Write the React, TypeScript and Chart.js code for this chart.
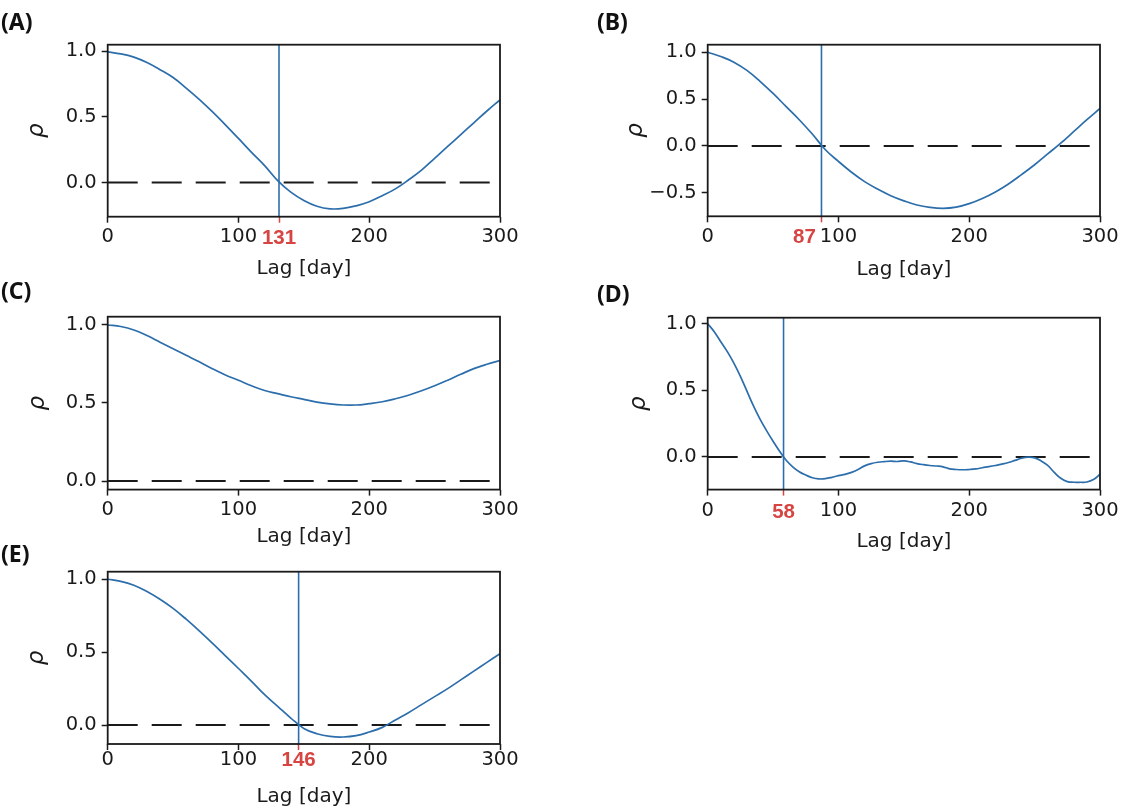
import React, { useEffect, useRef } from "react";
import { Chart, registerables } from "chart.js";

Chart.register(...registerables);

// ---------------- data ----------------
const lagsCoarse = [0, 10, 20, 30, 40, 50, 60, 70, 80, 90, 100, 110, 120, 130, 140, 150, 160, 170, 180, 190, 200, 210, 220, 230, 240, 250, 260, 270, 280, 290, 300];
const lagsFine = [0, 5, 10, 15, 20, 25, 30, 35, 40, 45, 50, 55, 60, 65, 70, 75, 80, 85, 90, 95, 100, 105, 110, 115, 120, 125, 130, 135, 140, 145, 150, 155, 160, 165, 170, 175, 180, 185, 190, 195, 200, 205, 210, 215, 220, 225, 230, 235, 240, 245, 250, 255, 260, 265, 270, 275, 280, 285, 290, 295, 300];

const rhoA = [0.995, 0.98, 0.955, 0.914, 0.86, 0.8, 0.72, 0.634, 0.54, 0.44, 0.336, 0.23, 0.129, 0.015, -0.073, -0.136, -0.18, -0.2, -0.197, -0.177, -0.146, -0.1, -0.048, 0.02, 0.095, 0.185, 0.275, 0.365, 0.455, 0.545, 0.63];
const rhoB = [1.0, 0.954, 0.894, 0.806, 0.69, 0.56, 0.42, 0.28, 0.127, -0.04, -0.165, -0.28, -0.38, -0.46, -0.53, -0.585, -0.63, -0.655, -0.665, -0.652, -0.615, -0.56, -0.49, -0.405, -0.305, -0.2, -0.085, 0.03, 0.155, 0.28, 0.4];
const rhoC = [1.0, 0.99, 0.968, 0.932, 0.89, 0.848, 0.806, 0.764, 0.72, 0.68, 0.646, 0.61, 0.58, 0.56, 0.54, 0.523, 0.506, 0.494, 0.487, 0.487, 0.496, 0.508, 0.527, 0.55, 0.578, 0.61, 0.646, 0.684, 0.72, 0.748, 0.772];
const rhoD = [1.0, 0.94, 0.864, 0.79, 0.704, 0.605, 0.494, 0.383, 0.284, 0.198, 0.118, 0.042, -0.025, -0.074, -0.111, -0.136, -0.156, -0.165, -0.163, -0.153, -0.14, -0.131, -0.116, -0.094, -0.067, -0.05, -0.04, -0.035, -0.032, -0.034, -0.03, -0.037, -0.05, -0.058, -0.064, -0.068, -0.074, -0.089, -0.094, -0.096, -0.094, -0.09, -0.081, -0.073, -0.064, -0.054, -0.042, -0.026, -0.01, -0.002, -0.007, -0.03, -0.064, -0.116, -0.16, -0.185, -0.19, -0.19, -0.188, -0.17, -0.13];
const rhoE = [1.0, 0.986, 0.959, 0.916, 0.863, 0.8, 0.726, 0.646, 0.562, 0.475, 0.388, 0.3, 0.208, 0.128, 0.048, -0.023, -0.06, -0.078, -0.082, -0.073, -0.048, -0.016, 0.035, 0.085, 0.14, 0.195, 0.25, 0.31, 0.37, 0.43, 0.49];

const crossA = 131;
const crossB = 87;
const crossD = 58;
const crossE = 146;

const xTicksA = [0, 100, 131, 200, 300];
const xTicksB = [0, 87, 100, 200, 300];
const xTicksC = [0, 100, 200, 300];
const xTicksD = [0, 58, 100, 200, 300];
const xTicksE = [0, 100, 146, 200, 300];

const yTicksA = [0, 0.5, 1.0];
const yTicksB = [-0.5, 0, 0.5, 1.0];
const yTicksC = [0, 0.5, 1.0];
const yTicksD = [0, 0.5, 1.0];
const yTicksE = [0, 0.5, 1.0];

const xTitle = "Lag [day]";
const yTitle = "ρ";

// ---------------- style ----------------
const BLUE = "#2c6eab";
const RED = "#d64541";
const INK = "#1a1a1a";

type PanelCfg = {
  label: string;
  lags: number[];
  rho: number[];
  cross: number | null;
  crossLabel: string;
  xTicks: number[];
  yTicks: number[];
  yMin: number;
  yMax: number;
  plotL: number;
  plotR: number;
  plotT: number;
  plotB: number;
  titleCY: number;
  rhoCX: number;
  xTickPad: number;
  labelX: number;
  labelY: number;
};

const panels: PanelCfg[] = [
  { label: "(A)", lags: lagsCoarse, rho: rhoA, cross: crossA, crossLabel: "131", xTicks: xTicksA, yTicks: yTicksA, yMin: -0.26, yMax: 1.05,
    plotL: 107.7, plotR: 500, plotT: 43.3, plotB: 216.7, titleCY: 269, rhoCX: 37.5, xTickPad: 3, labelX: 1, labelY: 10 },
  { label: "(B)", lags: lagsCoarse, rho: rhoB, cross: crossB, crossLabel: "87      ", xTicks: xTicksB, yTicks: yTicksB, yMin: -0.75, yMax: 1.08,
    plotL: 707.7, plotR: 1100, plotT: 43.3, plotB: 216.3, titleCY: 270, rhoCX: 635.7, xTickPad: 3, labelX: 597, labelY: 10 },
  { label: "(C)", lags: lagsCoarse, rho: rhoC, cross: null, crossLabel: "", xTicks: xTicksC, yTicks: yTicksC, yMin: -0.055, yMax: 1.053,
    plotL: 107.7, plotR: 500, plotT: 315, plotB: 489.6, titleCY: 537.3, rhoCX: 38.5, xTickPad: 2.5, labelX: 1, labelY: 278.5 },
  { label: "(D)", lags: lagsFine, rho: rhoD, cross: crossD, crossLabel: "58", xTicks: xTicksD, yTicks: yTicksD, yMin: -0.245, yMax: 1.045,
    plotL: 707.7, plotR: 1100, plotT: 316, plotB: 489.6, titleCY: 542, rhoCX: 639, xTickPad: 4, labelX: 597, labelY: 282 },
  { label: "(E)", lags: lagsCoarse, rho: rhoE, cross: crossE, crossLabel: "146", xTicks: xTicksE, yTicks: yTicksE, yMin: -0.13, yMax: 1.052,
    plotL: 107.7, plotR: 500, plotT: 570.7, plotB: 744, titleCY: 797.3, rhoCX: 37.5, xTickPad: -1.5, labelX: 1, labelY: 542 },
];

const framePlugin = {
  id: "frame",
  afterDraw(chart: any) {
    const { ctx, chartArea: a } = chart;
    ctx.save();
    ctx.strokeStyle = INK;
    ctx.lineWidth = 1.8;
    ctx.strokeRect(a.left, a.top, a.right - a.left, a.bottom - a.top);
    ctx.restore();
  },
};

const fmtY = (v: number) => v.toFixed(1).replace("-", "\u2212");

function Panel({ cfg }: { cfg: PanelCfg }) {
  const ref = useRef<HTMLCanvasElement>(null);

  const cl = Math.floor(cfg.plotL) - 100;
  const ct = Math.floor(cfg.plotT) - 15;
  const yAxisW = cfg.plotL - cl;
  const padTop = cfg.plotT - ct;
  const cw = Math.ceil(cfg.plotR - cl) + 30;
  const padRight = cw - (cfg.plotR - cl);
  const ch = Math.round(cfg.titleCY + 12 - ct);
  const xAxisH = ch - (cfg.plotB - ct);
  const rhoPad = cfg.rhoCX - cl - 13.8;

  useEffect(() => {
    const datasets: any[] = [
      {
        data: cfg.lags.map((x, i) => ({ x, y: cfg.rho[i] })),
        borderColor: BLUE,
        borderWidth: 1.7,
        pointRadius: 0,
        tension: 0.4,
      },
    ];
    if (cfg.cross !== null) {
      datasets.push({
        data: [
          { x: cfg.cross, y: cfg.yMin },
          { x: cfg.cross, y: cfg.yMax },
        ],
        borderColor: BLUE,
        borderWidth: 1.6,
        pointRadius: 0,
      });
    }
    datasets.push({
      data: [
        { x: 0, y: 0 },
        { x: 300, y: 0 },
      ],
      borderColor: INK,
      borderWidth: 2,
      borderDash: [30, 14],
      pointRadius: 0,
    });

    const isRed = (v: number) => cfg.cross !== null && v === cfg.cross;

    const chart = new Chart(ref.current as HTMLCanvasElement, {
      type: "line",
      data: { datasets },
      plugins: [framePlugin],
      options: {
        responsive: false,
        animation: false,
        devicePixelRatio: 1,
        layout: { padding: { top: padTop, right: padRight, left: 0, bottom: 0 } },
        plugins: { legend: { display: false }, tooltip: { enabled: false } },
        scales: {
          x: {
            type: "linear",
            min: 0,
            max: 300,
            bounds: "data",
            afterFit: (s: any) => {
              s.height = xAxisH;
            },
            afterBuildTicks: (s: any) => {
              s.ticks = cfg.xTicks.map((v) => ({ value: v }));
            },
            ticks: {
              autoSkip: false,
              maxRotation: 0,
              minRotation: 0,
              padding: cfg.xTickPad,
              color: (c: any) => (isRed(c.tick && c.tick.value) ? RED : INK),
              font: (c: any) =>
                isRed(c.tick && c.tick.value)
                  ? { family: "Liberation Sans", size: 20.5, weight: "bold" }
                  : { family: "DejaVu Sans", size: 19.5 },
              callback: (v: any) => (isRed(Number(v)) ? cfg.crossLabel : String(v)),
            },
            grid: {
              drawOnChartArea: false,
              drawTicks: true,
              tickLength: 6,
              tickWidth: 1.5,
              tickColor: (c: any) => (isRed(c.tick && c.tick.value) ? RED : INK),
            },
            border: { display: false },
            title: {
              display: true,
              text: xTitle,
              color: INK,
              font: { family: "DejaVu Sans", size: 20 },
              padding: { top: 0, bottom: 0 },
            },
          },
          y: {
            type: "linear",
            min: cfg.yMin,
            max: cfg.yMax,
            bounds: "data",
            afterFit: (s: any) => {
              s.width = yAxisW;
            },
            afterBuildTicks: (s: any) => {
              s.ticks = cfg.yTicks.map((v) => ({ value: v }));
            },
            ticks: {
              padding: 5,
              color: INK,
              font: { family: "DejaVu Sans", size: 19.5 },
              callback: (v: any) => fmtY(Number(v)),
            },
            grid: {
              drawOnChartArea: false,
              drawTicks: true,
              tickLength: 6,
              tickWidth: 1.5,
              tickColor: INK,
            },
            border: { display: false },
            title: {
              display: true,
              text: yTitle,
              color: INK,
              font: { family: "DejaVu Sans", size: 23, style: "italic" },
              padding: { top: rhoPad, bottom: 0 },
            },
          },
        },
      } as any,
    });
    return () => chart.destroy();
  }, []);

  return (
    <>
      <canvas
        ref={ref}
        width={cw}
        height={ch}
        style={{ position: "absolute", left: cl, top: ct, width: cw, height: ch }}
      />
      <div
        style={{
          position: "absolute",
          left: cfg.labelX,
          top: cfg.labelY,
          font: 'bold 23px "Noto Sans"',
          lineHeight: "23px",
          color: "#111",
          whiteSpace: "nowrap",
        }}
      >
        {cfg.label}
      </div>
    </>
  );
}

export default function App() {
  return (
    <div
      style={{
        position: "absolute",
        left: 0,
        top: 0,
        width: 1138,
        height: 808,
        overflow: "hidden",
        background: "#fff",
      }}
    >
      {panels.map((p) => (
        <Panel key={p.label} cfg={p} />
      ))}
    </div>
  );
}
